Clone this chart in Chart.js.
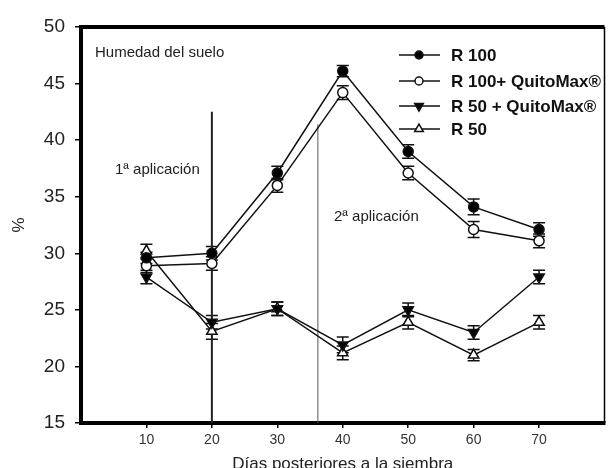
<!DOCTYPE html>
<html>
<head>
<meta charset="utf-8">
<script src="https://cdn.jsdelivr.net/npm/chart.js@4"></script>
<style>
html,body{margin:0;padding:0;background:#fff;}
#wrap{width:612px;height:468px;position:relative;}
</style>
</head>
<body>
<div id="wrap"><canvas id="c" width="612" height="468"></canvas></div>
<script>
const days = [10, 20, 30, 40, 50, 60, 70];
const xTicks = [10, 20, 30, 40, 50, 60, 70];
const yTicks = [15, 20, 25, 30, 35, 40, 45, 50];

const seriesNames = ['R 100', 'R 100+ QuitoMax®', 'R 50 + QuitoMax®', 'R 50'];
const r100      = [29.6, 30.0, 37.1, 46.1, 39.0, 34.1, 32.1];
const r100Quito = [28.9, 29.1, 36.0, 44.2, 37.1, 32.1, 31.1];
const r50Quito  = [27.9, 23.9, 25.1, 21.9, 25.0, 23.0, 27.9];
const r50       = [30.2, 23.1, 25.1, 21.2, 23.9, 21.0, 23.9];

const errR100      = [0.5, 0.6, 0.6, 0.5, 0.6, 0.7, 0.6];
const errR100Quito = [0.6, 0.6, 0.6, 0.6, 0.6, 0.7, 0.6];
const errR50Quito  = [0.6, 0.6, 0.6, 0.7, 0.6, 0.6, 0.6];
const errR50       = [0.6, 0.7, 0.6, 0.6, 0.6, 0.5, 0.6];

// application markers (day, top value)
const app1 = {day: 20, top: 42.5};
const app2 = {day: 36.2, top: 41.4};

const FONT = '"Liberation Sans", Arial, sans-serif';

function pts(vals){ return days.map((d,i)=>({x:d, y:vals[i]})); }

const styles = [
  {pointStyle:'circle', rot:0, fill:'#000', radius:5},
  {pointStyle:'circle', rot:0, fill:'#fff', radius:5},
  {pointStyle:'triangle', rot:180, fill:'#000', radius:6},
  {pointStyle:'triangle', rot:0, fill:'#fff', radius:6}
];
const seriesVals = [r100, r100Quito, r50Quito, r50];
const seriesErr = [errR100, errR100Quito, errR50Quito, errR50];

const datasets = seriesVals.map((v,i)=>({
  label: seriesNames[i],
  data: pts(v),
  errors: seriesErr[i],
  borderColor:'#111',
  borderWidth:1.5,
  backgroundColor: styles[i].fill,
  pointBackgroundColor: styles[i].fill,
  pointBorderColor:'#111',
  pointBorderWidth:1.5,
  pointStyle: styles[i].pointStyle,
  rotation: styles[i].rot,
  pointRadius: styles[i].radius,
  tension:0,
  isSeries:true
}));

datasets.push({
  label:'app1', data:[{x:app1.day,y:15},{x:app1.day,y:app1.top}],
  borderColor:'#222', borderWidth:2, pointRadius:0, isSeries:false
});
datasets.push({
  label:'app2', data:[{x:app2.day,y:15},{x:app2.day,y:app2.top}],
  borderColor:'#555', borderWidth:1, pointRadius:0, isSeries:false
});

const errorBars = {
  id:'errorBars',
  beforeDatasetsDraw(chart){
    const ctx = chart.ctx, ys = chart.scales.y;
    ctx.save();
    ctx.strokeStyle = '#111';
    ctx.lineWidth = 1.5;
    chart.data.datasets.forEach((ds,di)=>{
      if(!ds.isSeries) return;
      const meta = chart.getDatasetMeta(di);
      meta.data.forEach((el,i)=>{
        const v = ds.data[i].y, e = ds.errors[i];
        const yt = ys.getPixelForValue(v+e), yb = ys.getPixelForValue(v-e);
        const x = el.x, w = 6;
        ctx.beginPath();
        ctx.moveTo(x,yt); ctx.lineTo(x,yb);
        ctx.moveTo(x-w,yt); ctx.lineTo(x+w,yt);
        ctx.moveTo(x-w,yb); ctx.lineTo(x+w,yb);
        ctx.stroke();
      });
    });
    ctx.restore();
  }
};

const frame = {
  id:'frame',
  afterDraw(chart){
    const {ctx, chartArea:a} = chart;
    ctx.save();
    ctx.strokeStyle='#000';
    ctx.lineWidth=4;
    ctx.beginPath(); ctx.moveTo(a.left-2,a.top); ctx.lineTo(a.right,a.top); ctx.stroke();
    ctx.lineWidth=1.5;
    ctx.beginPath(); ctx.moveTo(a.right,a.top); ctx.lineTo(a.right,a.bottom); ctx.stroke();
    // texts
    ctx.fillStyle='#222';
    ctx.textBaseline='middle';
    ctx.font='15px '+FONT;
    ctx.fillText('Humedad del suelo', 95, 53);
    ctx.fillText('1ª aplicación', 115, 170);
    ctx.fillText('2ª aplicación', 334, 217);
    // legend
    const rows = [55, 81, 106, 129];
    ctx.font='bold 17px '+FONT;
    chart.data.datasets.forEach((ds,i)=>{
      if(!ds.isSeries) return;
      const y = rows[i];
      ctx.strokeStyle='#111'; ctx.lineWidth=1.5;
      ctx.beginPath(); ctx.moveTo(399,y); ctx.lineTo(440,y); ctx.stroke();
      ctx.fillStyle = ds.pointBackgroundColor;
      ctx.strokeStyle = '#111';
      ctx.lineWidth = 1.5;
      Chart.helpers.drawPoint(ctx, {pointStyle:ds.pointStyle, rotation:ds.rotation, radius:ds.pointRadius-1, borderWidth:1.5}, 419, y);
      ctx.fillStyle='#111';
      ctx.fillText(ds.label, 451, y+1);
    });
    ctx.restore();
  }
};

new Chart(document.getElementById('c'), {
  type:'line',
  data:{datasets},
  options:{
    responsive:false,
    animation:false,
    layout:{padding:{left:0, top:27, right:2, bottom:0}},
    plugins:{legend:{display:false}, tooltip:{enabled:false}},
    scales:{
      x:{
        type:'linear', min:0, max:80,
        afterBuildTicks(axis){ axis.ticks = xTicks.map(v=>({value:v})); },
        afterFit(axis){ axis.height = 45; },
        border:{display:true, color:'#000', width:4},
        grid:{drawOnChartArea:false, drawTicks:true, tickLength:5, color:'#000', lineWidth:1.5},
        ticks:{font:{family:FONT, size:14}, color:'#333', padding:4, maxRotation:0},
        title:{display:true, text:'Días posteriores a la siembra', font:{family:FONT, size:17}, color:'#222', padding:{top:0,bottom:-7}}
      },
      y:{
        min:15, max:50,
        afterBuildTicks(axis){ axis.ticks = yTicks.map(v=>({value:v})); },
        afterFit(axis){ axis.width = 81; },
        border:{display:true, color:'#000', width:4},
        grid:{drawOnChartArea:false, drawTicks:true, tickLength:6, color:'#000', lineWidth:1.5},
        ticks:{font:{family:FONT, size:19}, color:'#222', padding:10},
        title:{display:true, text:'%', font:{family:FONT, size:17}, color:'#222', padding:{top:9,bottom:0}}
      }
    }
  },
  plugins:[errorBars, frame]
});
</script>
</body>
</html>
